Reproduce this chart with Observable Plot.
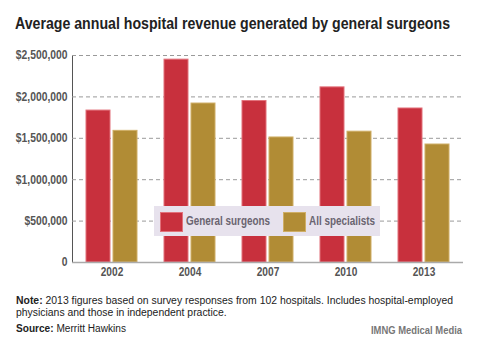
<!DOCTYPE html>
<html>
<head>
<meta charset="utf-8">
<script src="https://cdn.jsdelivr.net/npm/d3@7"></script>
<script src="https://cdn.jsdelivr.net/npm/@observablehq/plot@0.6"></script>
<style>
  html, body { margin: 0; padding: 0; background: #fff; }
  body { width: 479px; height: 351px; position: relative; overflow: hidden; font-family: "Liberation Sans", Arial, sans-serif; }
  .fit { display: inline-block; white-space: nowrap; transform-origin: left top; }
  #title { position: absolute; left: 15px; top: 14px; font-size: 16px; line-height: 20px; font-weight: bold; color: #222; }
  #chart { position: absolute; left: 0; top: 40px; }
  #legend { position: absolute; left: 154px; top: 206px; width: 226px; height: 30px; background: #e7e2ed; }
  .sw { position: absolute; top: 6px; width: 21px; height: 18px; border: 1px solid; }
  .lt { position: absolute; top: 6px; font-size: 12px; font-weight: bold; color: #6a6470; line-height: 19px; }
  #note { position: absolute; left: 16px; top: 295px; font-size: 10px; line-height: 12px; color: #222; }
  #source { position: absolute; left: 16px; top: 323px; font-size: 10px; line-height: 12px; color: #222; }
  #credit { position: absolute; left: 371px; top: 324px; font-size: 10.5px; line-height: 12px; font-weight: bold; color: #777; }
</style>
</head>
<body>
<div id="title" class="fit" data-w="435">Average annual hospital revenue generated by general surgeons</div>
<div id="chart"></div>
<div id="legend">
  <div class="sw" style="left:6px;background:#c8303d;border-color:#e2717b"></div>
  <div class="lt fit" style="left:32px" data-w="84">General surgeons</div>
  <div class="sw" style="left:129px;background:#b18c35;border-color:#cfae66"></div>
  <div class="lt fit" style="left:155px" data-w="66">All specialists</div>
</div>
<div id="note"><span id="note1" class="fit"><b>Note:</b> 2013 figures based on survey responses from 102 hospitals. Includes hospital-employed</span><br><span id="note2" class="fit">physicians and those in independent practice.</span></div>
<div id="source" class="fit" data-w="110"><b>Source:</b> Merritt Hawkins</div>
<div id="credit" class="fit" data-w="91">IMNG Medical Media</div>
<script>
const years = ["2002", "2004", "2007", "2010", "2013"];
const generalSurgeons = [1835000, 2450000, 1950000, 2115000, 1860000];
const allSpecialists = [1590000, 1920000, 1510000, 1580000, 1425000];
const yTicks = [0, 500000, 1000000, 1500000, 2000000, 2500000];

const gs = years.map((y, i) => ({year: y, value: generalSurgeons[i]}));
const as = years.map((y, i) => ({year: y, value: allSpecialists[i]}));

const fmt = d => d === 0 ? "0" : "$" + d3.format(",")(d);

const chart = Plot.plot({
  width: 479,
  height: 240,
  marginLeft: 72,
  marginRight: 16,
  marginTop: 15,
  marginBottom: 18,
  style: {fontFamily: '"Liberation Sans", Arial, sans-serif', fontSize: "12px", fontWeight: "bold", color: "#555", background: "transparent"},
  x: {domain: years, paddingInner: 0.35, paddingOuter: 0.175, tickSize: 0, tickPadding: 4, label: null},
  y: {domain: [0, 2500000], ticks: yTicks, tickFormat: fmt, tickSize: 0, tickPadding: 5, label: null, line: true},
  marks: [
    Plot.ruleY(yTicks.filter(d => d > 0), {stroke: "#9a9a9a", strokeDasharray: "4,3", strokeWidth: 1}),
    Plot.barY(gs, {x: "year", y: "value", fill: "#c8303d", stroke: "#e2717b", strokeWidth: 1, insetRight: 27}),
    Plot.barY(as, {x: "year", y: "value", fill: "#b18c35", stroke: "#cfae66", strokeWidth: 1, insetLeft: 27}),
    Plot.ruleY([0], {stroke: "#aaa", strokeWidth: 1.5})
  ]
});
document.getElementById("chart").appendChild(chart);

// condense axis tick labels (the reference uses a condensed face)
chart.querySelectorAll("text").forEach(t => {
  const isYear = years.includes(t.textContent);
  if (isYear) t.style.fontSize = "13px";
  const len = t.getComputedTextLength();
  if (len > 0) {
    t.setAttribute("textLength", (len * (isYear ? 0.78 : 0.86)).toFixed(2));
    t.setAttribute("lengthAdjust", "spacingAndGlyphs");
  }
});

function fit(el, w) {
  const cur = el.getBoundingClientRect().width;
  if (cur > 0) el.style.transform = `scaleX(${w / cur})`;
}
document.querySelectorAll("[data-w]").forEach(el => fit(el, +el.dataset.w));
const n1 = document.getElementById("note1");
const s = 437 / n1.getBoundingClientRect().width;
n1.style.transform = `scaleX(${s})`;
document.getElementById("note2").style.transform = `scaleX(${s})`;
</script>
</body>
</html>
